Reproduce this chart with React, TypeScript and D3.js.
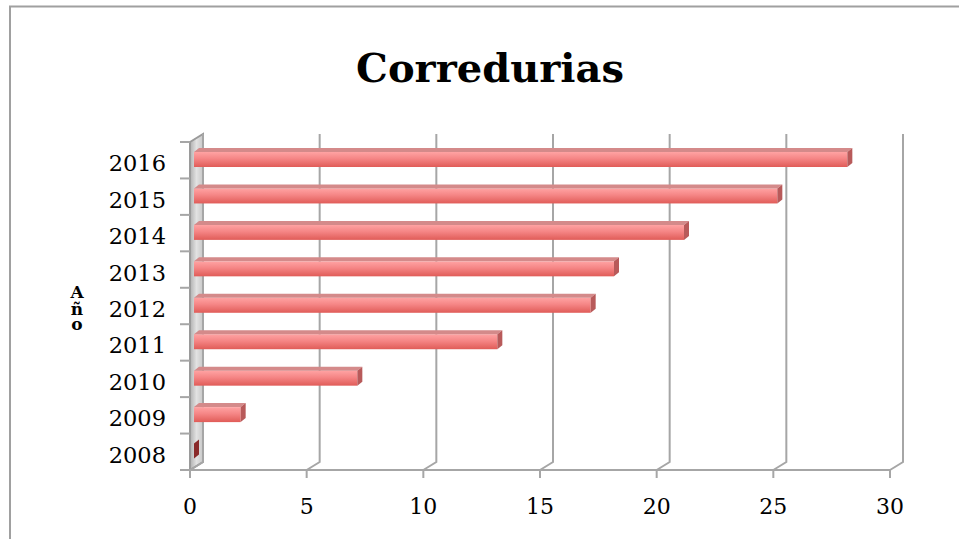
import React from "react";
import * as d3 from "d3";

const years = ["2008", "2009", "2010", "2011", "2012", "2013", "2014", "2015", "2016"];
const values = [0, 2, 7, 13, 17, 18, 21, 25, 28];
const xTicks = [0, 5, 10, 15, 20, 25, 30];
const title = "Corredurias";
const axisTitle = ["A", "ñ", "o"];

const W = 959;
const H = 539;
const DX = 13;
const DY = -8;

export default function App() {
  const x = d3.scaleLinear().domain([0, 30]).range([190, 890]);
  const y = d3
    .scaleBand<string>()
    .domain([...years].reverse())
    .range([142, 470]);
  const y0 = 470;
  const yTop = 142;
  const bw = y.bandwidth();
  const barOff = 4;
  const bdx = 5;
  const bdy = -4;
  const font = "'DejaVu Serif', serif";
  const grid = "#a6a6a6";
  const titleY = [298, 315, 330];

  return (
    <svg width={W} height={H} style={{ position: "absolute", left: 0, top: 0, background: "#fff" }}>
      <defs>
        <linearGradient id="barFront" x1="0" y1="0" x2="0" y2="1">
          <stop offset="0" stopColor="#ffa3a3" />
          <stop offset="0.45" stopColor="#f58585" />
          <stop offset="1" stopColor="#e05c58" />
        </linearGradient>
        <linearGradient id="wall" x1="0" y1="0" x2="1" y2="0">
          <stop offset="0" stopColor="#b0b0b0" />
          <stop offset="0.5" stopColor="#e2e2e2" />
          <stop offset="1" stopColor="#c8c8c8" />
        </linearGradient>
      </defs>
      {/* outer border */}
      <path d={`M10,${H} L10,6.5 L${W},6.5`} fill="none" stroke="#a0a0a0" strokeWidth={2} />

      {/* title */}
      <text x={490} y={82} textAnchor="middle" fontFamily={font} fontWeight="bold" fontSize={40}>
        {title}
      </text>

      {/* left wall */}
      <polygon
        points={`${x(0)},${yTop} ${x(0) + DX},${yTop + DY} ${x(0) + DX},${y0 + DY} ${x(0)},${y0}`}
        fill="url(#wall)"
        stroke="#9a9a9a"
        strokeWidth={2}
      />

      {/* gridlines (back wall + floor) */}
      {xTicks.map((t) => (
        <g key={t}>
          <path
            d={`M${x(t)},${y0} L${x(t) + DX},${y0 + DY} L${x(t) + DX},${yTop + DY}`}
            fill="none"
            stroke={grid}
            strokeWidth={2}
          />
          <line x1={x(t)} x2={x(t)} y1={y0} y2={y0 + 8} stroke={grid} strokeWidth={2} />
          <text x={x(t)} y={514} textAnchor="middle" fontFamily={font} fontSize={22} fill="#000">
            {t}
          </text>
        </g>
      ))}
      <line x1={x(0)} x2={x(30)} y1={y0} y2={y0} stroke={grid} strokeWidth={2} />

      {/* category ticks */}
      {[...years.map((yr) => y(yr)!), y0].map((ty, i) => (
        <line key={i} x1={180} x2={x(0)} y1={ty} y2={ty} stroke={grid} strokeWidth={2} />
      ))}

      {/* category labels */}
      {years.map((yr) => (
        <text
          key={yr}
          x={166}
          y={y(yr)! + bw / 2 + 11}
          textAnchor="end"
          fontFamily={font}
          fontSize={22.5}
          fill="#000"
        >
          {yr}
        </text>
      ))}

      {/* bars */}
      {years.map((yr, i) => {
        const v = values[i];
        const xl = x(0) + barOff;
        const xr = x(v) + barOff;
        const yt = y(yr)! + 10;
        const yb = yt + 15;
        return (
          <g key={yr}>
            <rect x={xl} y={yt} width={xr - xl} height={yb - yt} fill="url(#barFront)" />
            <polygon
              points={`${xl},${yt} ${xl + bdx},${yt + bdy} ${xr + bdx},${yt + bdy} ${xr},${yt}`}
              fill="#d48a8a"
            />
            <polygon
              points={`${xr},${yt} ${xr + bdx},${yt + bdy} ${xr + bdx},${yb + bdy} ${xr},${yb}`}
              fill={v === 0 ? "#8a2a2a" : "#b85a5a"}
            />
          </g>
        );
      })}

      {/* axis title (stacked letters) */}
      <text textAnchor="middle" fontFamily={font} fontWeight="bold" fontSize={17} fill="#000">
        {axisTitle.map((c, i) => (
          <tspan key={i} x={77} y={titleY[i]}>
            {c}
          </tspan>
        ))}
      </text>
    </svg>
  );
}
